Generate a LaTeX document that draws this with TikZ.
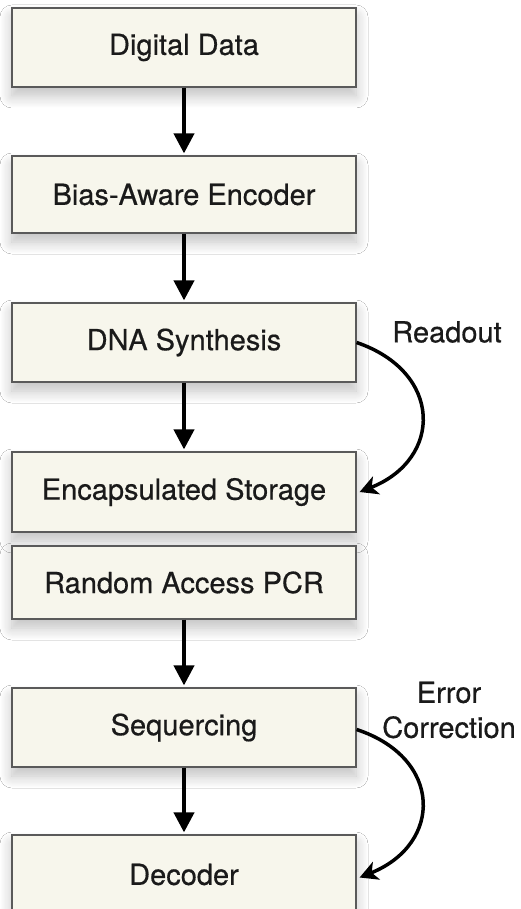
\documentclass[tikz,border=0pt]{standalone}
\usepackage{fontspec}
\setmainfont{TeX Gyre Heros}[FakeBold=0.5]
\usetikzlibrary{arrows.meta,shadows.blur}
\definecolor{boxfill}{HTML}{F7F6EC}
\definecolor{boxline}{HTML}{5A5A5A}
\definecolor{ink}{HTML}{1A1A1A}
\tikzset{
  stepbox/.style={draw=boxline, line width=1.2pt, fill=boxfill, minimum width=344pt,
    inner sep=0pt, text=ink, font=\fontsize{29}{34}\selectfont,
    blur shadow={shadow xshift=0pt, shadow yshift=-9pt, shadow blur radius=12pt, shadow opacity=25, shadow blur steps=12}},
  flow/.style={line width=4pt, draw=black, -{Triangle[width=20pt,length=20pt]}, shorten >=2pt},
  loop/.style={line width=3.5pt, draw=black, -{Stealth[width=19pt,length=18pt,inset=5pt]}},
  lbl/.style={text=ink, font=\fontsize{29}{35}\selectfont, align=center, inner sep=0pt}
}
\begin{document}
\begin{tikzpicture}[x=1pt,y=-1pt]
\useasboundingbox (0,0) rectangle (521,909);
\clip (0,0) rectangle (521,909);
\fill[white] (0,0) rectangle (521,909);
\node[stepbox, minimum height=79pt] (b1) at (184,47.5) {Digital Data};
\node[stepbox, minimum height=77pt] (b2) at (184,194.5) {Bias-Aware Encoder};
\node[stepbox, minimum height=79pt] (b3) at (184,342.5) {DNA Synthesis};
\node[stepbox, minimum height=80pt] (b4) at (184,492) {Encapsulated Storage};
\node[stepbox, minimum height=73pt] (b5) at (184,582.5) {Random Access PCR};
\node[stepbox, minimum height=79pt] (b6) at (184,727.5) {Sequercing};
\node[stepbox, minimum height=79pt] (b7) at (184,874.5) {Decoder};
\draw[flow] (b1.south) -- (b2.north);
\draw[flow] (b2.south) -- (b3.north);
\draw[flow] (b3.south) -- (b4.north);
\draw[flow] (b5.south) -- (b6.north);
\draw[flow] (b6.south) -- (b7.north);
\coordinate (r1) at (443,372);
\coordinate (r2) at (443,459);
\draw[loop] (b3.east) .. controls (r1) and (r2) .. ([xshift=3pt]b4.east);
\coordinate (e1) at (443,758);
\coordinate (e2) at (443,844);
\draw[loop] ([yshift=-2pt]b6.east) .. controls (e1) and (e2) .. ([xshift=3pt,yshift=-3pt]b7.east);
\node[lbl] (tr) at (447,332) {Readout};
\node[lbl] (te) at (449,710) {Error\\Correction};
\end{tikzpicture}
\end{document}
